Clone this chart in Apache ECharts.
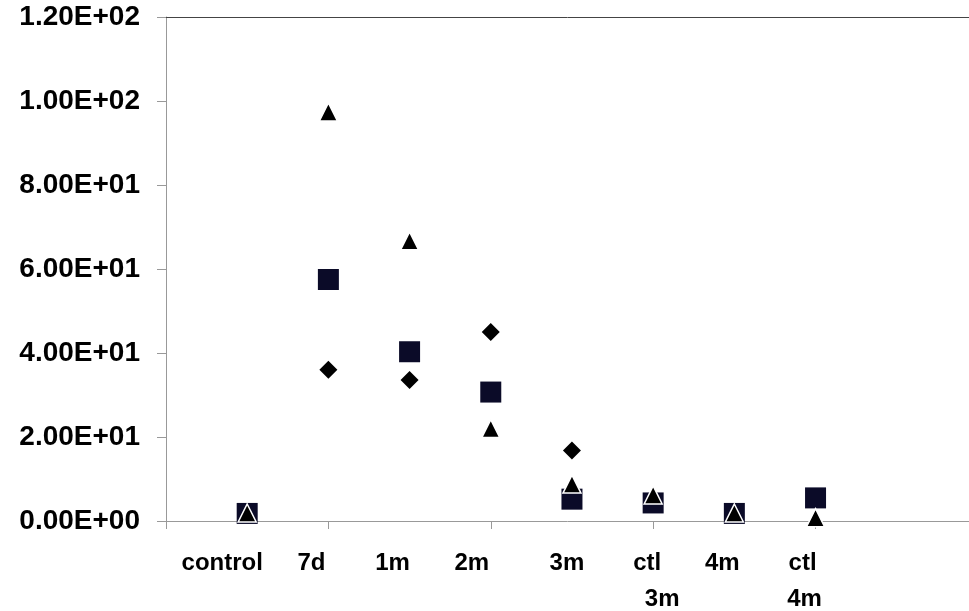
<!DOCTYPE html>
<html>
<head>
<meta charset="utf-8">
<script src="https://cdn.jsdelivr.net/npm/echarts@6/dist/echarts.min.js"></script>
<style>
  html, body { margin: 0; padding: 0; background: #fff; }
  #chart { width: 969px; height: 611px; }
</style>
</head>
<body>
<div id="chart"></div>
<script>
// Sample groups along the x axis (position 1..8)
const categories = ['control', '7d', '1m', '2m', '3m', 'ctl\n3m', '4m', 'ctl\n4m'];
const xPositions = [1, 2, 3, 4, 5, 6, 7, 8];
const xTicks = [0, 2, 4, 6, 8];
const xMax = 9.89;

// Three measurement series
const diamondValues  = [1.8, 36.0, 33.6, 45.0, 16.8, 4.3, 1.8, 5.5];
const squareValues   = [1.8, 57.5, 40.3, 30.7, 5.2, 4.3, 1.8, 5.5];
const triangleValues = [1.9, 97.4, 66.7, 22.0, 8.8, 6.2, 1.9, 0.8];

// Y axis range and step
const yTicks = [0, 20, 40, 60, 80, 100, 120];

// Label placement: pixel offset of each label block from its group,
// and per-line nudges inside the two-line labels
const labelOffset = [-25, -17, -17, -19, -5, 2, -12, -12];
const lineNudge = { 5: [-8, 7], 7: [-1, 1] };

const FONT = "'Liberation Sans', Arial, sans-serif";
const GRID_LEFT = 166, GRID_RIGHT = 0, WIDTH = 969;
const pxPerUnit = (WIDTH - GRID_LEFT - GRID_RIGHT) / xMax;

function sci(v) {
  const parts = Number(v).toExponential(2).split('e');
  const n = parseInt(parts[1], 10);
  return parts[0] + 'E' + (n < 0 ? '-' : '+') + String(Math.abs(n)).padStart(2, '0');
}

const rich = {};
const labelValues = [];
const labelText = {};
categories.forEach((name, i) => {
  const v = xPositions[i] + labelOffset[i] / pxPerUnit;
  labelValues.push(v);
  const nudges = lineNudge[i] || [];
  labelText[v.toFixed(5)] = name.split('\n').map((line, j) => {
    const key = 's' + i + '_' + j;
    const s = nudges[j] || 0;
    rich[key] = {
      fontFamily: FONT, fontWeight: 'bold', fontSize: 24, color: '#000',
      lineHeight: 36,
      padding: s < 0 ? [0, -2 * s, 0, 0] : [0, 0, 0, 2 * s]
    };
    return '{' + key + '|' + line + '}';
  }).join('\n');
});

function pairs(vals) { return xPositions.map((x, i) => [x, vals[i]]); }

const chart = echarts.init(document.getElementById('chart'), null, { renderer: 'canvas' });
chart.setOption({
  backgroundColor: '#fff',
  animation: false,
  grid: { left: GRID_LEFT, right: GRID_RIGHT, top: 17, bottom: 90, containLabel: false },
  xAxis: [{
    type: 'value', min: 0, max: xMax,
    axisLine: { lineStyle: { color: '#999', width: 1 } },
    axisTick: { show: true, customValues: xTicks, length: 8, inside: false, lineStyle: { color: '#999' } },
    splitLine: { show: false },
    axisLabel: {
      customValues: labelValues,
      hideOverlap: false,
      showMinLabel: true,
      showMaxLabel: true,
      margin: 24,
      formatter: v => labelText[Number(v).toFixed(5)] || '',
      rich: rich
    }
  }, {
    type: 'value', min: 0, max: xMax, position: 'top',
    axisLine: { show: true, lineStyle: { color: '#444', width: 1 } },
    axisTick: { show: false }, axisLabel: { show: false }, splitLine: { show: false }
  }],
  yAxis: {
    type: 'value', min: yTicks[0], max: yTicks[yTicks.length - 1], interval: yTicks[1] - yTicks[0],
    axisLine: { show: true, lineStyle: { color: '#999', width: 1 } },
    axisTick: { show: true, length: 9, lineStyle: { color: '#999' } },
    splitLine: { show: false },
    axisLabel: {
      margin: 26, formatter: sci,
      fontFamily: FONT, fontWeight: 'bold', fontSize: 28, color: '#000'
    }
  },
  series: [{
    type: 'scatter', data: pairs(diamondValues),
    symbol: 'diamond', symbolSize: 18,
    itemStyle: { color: '#000', opacity: 1 }
  }, {
    type: 'scatter', data: pairs(squareValues),
    symbol: 'rect', symbolSize: 21,
    itemStyle: { color: '#0b0b28', opacity: 1 }
  }, {
    type: 'scatter', data: pairs(triangleValues),
    symbol: 'triangle', symbolSize: 18,
    itemStyle: { color: '#000', borderColor: '#fff', borderWidth: 1.5, opacity: 1 }
  }]
});
</script>
</body>
</html>
